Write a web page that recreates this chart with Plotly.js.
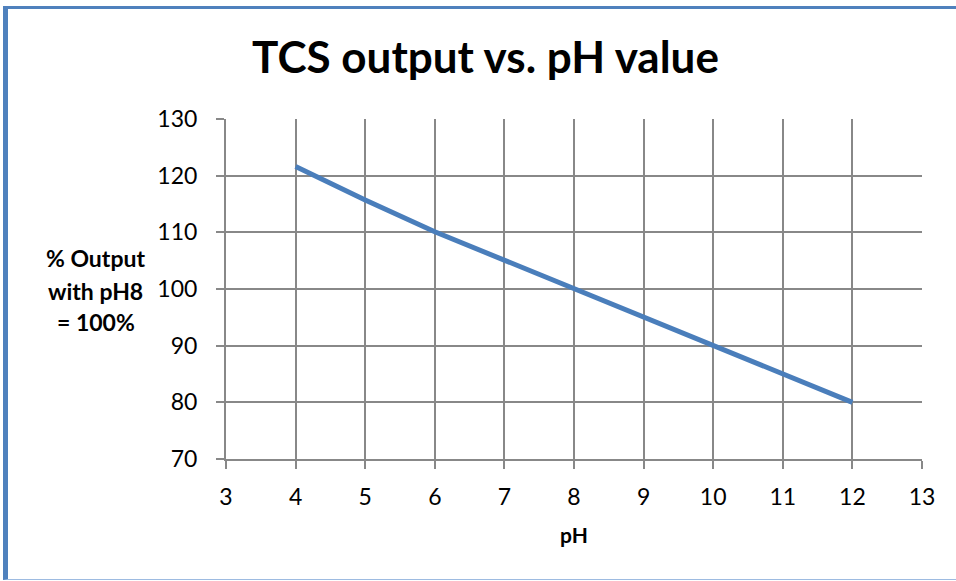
<!DOCTYPE html>
<html>
<head>
<meta charset="utf-8">
<script src="https://cdn.plot.ly/plotly-3.0.1.min.js"></script>
<style>
html,body{margin:0;padding:0;background:#fff;}
#wrap{position:relative;width:956px;height:581px;}
#chart{width:956px;height:581px;}
#frame{position:absolute;left:3px;top:6px;width:953px;height:574px;box-sizing:border-box;
  border-left:5px solid #4f81bd;border-top:3px solid #4f81bd;border-bottom:1px solid #9dbbe1;pointer-events:none;}
</style>
</head>
<body>
<div id="wrap"><div id="chart"></div><div id="frame"></div></div>
<script>
const phValues = [4, 5, 6, 7, 8, 9, 10, 11, 12];
const outputPct = [121.6, 115.7, 110.1, 105.1, 100, 94.9, 89.9, 84.9, 80];
const xTicks = [3, 4, 5, 6, 7, 8, 9, 10, 11, 12, 13];
const yTicks = [70, 80, 90, 100, 110, 120, 130];
const chartTitle = 'TCS output vs. pH value';
const xTitle = 'pH';
const yTitleLines = ['% Output', 'with pH8', '= 100%'];

const FONT = 'Lato, "Open Sans", sans-serif';
const GRID = '#888888';
const PLOT_L = 225.5, PLOT_T = 119, PLOT_W = 697, PLOT_H = 340.3;

const trace = {
  x: phValues, y: outputPct, type: 'scatter', mode: 'lines',
  line: {color: '#4a7ebb', width: 5}, hoverinfo: 'skip'
};

const yTitleY = [258, 291, 322];
const annotations = yTitleLines.map((t, i) => ({
  text: '<b>' + t + '</b>', xref: 'paper', yref: 'paper',
  x: (95 - PLOT_L) / PLOT_W, y: 1 - (yTitleY[i] - PLOT_T) / PLOT_H,
  xanchor: 'center', yanchor: 'middle', showarrow: false,
  font: {family: FONT, size: 23, color: '#000'}
}));

const layout = {
  width: 956, height: 581,
  margin: {l: PLOT_L, r: 956 - PLOT_L - PLOT_W, t: PLOT_T, b: 581 - PLOT_T - PLOT_H, pad: 0},
  paper_bgcolor: '#ffffff', plot_bgcolor: '#ffffff',
  showlegend: false,
  font: {family: FONT, color: '#000000'},
  title: {text: '<b>' + chartTitle + '</b>', font: {family: FONT, size: 44, color: '#000'},
          x: 485.5 / 956, xanchor: 'center', xref: 'container', y: 1 - 58/581, yanchor: 'middle', yref: 'container'},
  xaxis: {
    range: [3, 13], tickvals: xTicks, ticktext: xTicks.map(String),
    showgrid: true, gridcolor: GRID, gridwidth: 2,
    showline: true, linecolor: GRID, linewidth: 2, mirror: false,
    ticks: 'outside', ticklen: 8, tickwidth: 2, tickcolor: GRID,
    tickfont: {family: FONT, size: 23, color: '#000'}, ticklabelstandoff: 8,
    zeroline: false,
    title: {text: '<b>' + xTitle + '</b>', font: {family: FONT, size: 21, color: '#000'}, standoff: 20}
  },
  yaxis: {
    range: [70, 130], tickvals: yTicks, ticktext: yTicks.map(String),
    showgrid: true, gridcolor: GRID, gridwidth: 2,
    showline: true, linecolor: GRID, linewidth: 2,
    ticks: 'outside', ticklen: 8, tickwidth: 2, tickcolor: GRID,
    tickfont: {family: FONT, size: 23, color: '#000'}, ticklabelstandoff: 14,
    zeroline: false
  },
  annotations: annotations
};

Plotly.newPlot('chart', [trace], layout, {displayModeBar: false, staticPlot: true});
</script>
</body>
</html>
